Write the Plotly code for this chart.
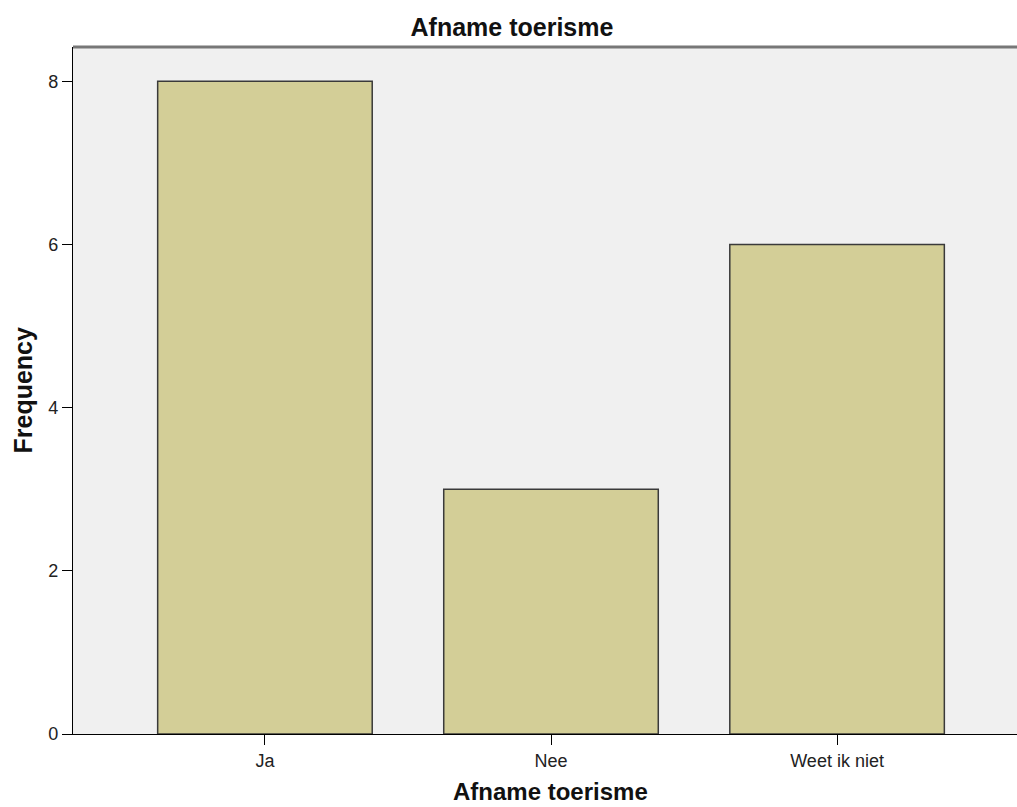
import plotly.graph_objects as go

categories = ["Ja", "Nee", "Weet ik niet"]
frequency = [8, 3, 6]
y_ticks = [0, 2, 4, 6, 8]

FONT = "Liberation Sans, Arial, sans-serif"
W, H = 1017, 807

fig = go.Figure()
fig.add_trace(go.Bar(
    x=categories, y=frequency, width=0.75,
    marker=dict(color="#D3CE97", line=dict(color="#3a3a3a", width=1.5)),
))

fig.update_layout(
    width=W, height=H,
    margin=dict(l=73, r=0, t=47, b=73),
    paper_bgcolor="white", plot_bgcolor="#F0F0F0",
    font=dict(family=FONT, size=18, color="#222"),
    title=dict(text="<b>Afname toerisme</b>", x=512 / W, xanchor="center", xref="container",
               y=1 - 27/H, yanchor="middle", yref="container",
               font=dict(size=25, color="#111")),
    showlegend=False,
)
fig.update_xaxes(
    range=[-0.671, 2.629], showgrid=False, zeroline=False,
    showline=True, linecolor="black", linewidth=1.2,
    ticks="outside", ticklen=10, tickcolor="black",
)
fig.update_yaxes(
    range=[0, 8.42], tickvals=y_ticks, showgrid=False, zeroline=False,
    showline=True, linecolor="black", linewidth=1.2,
    ticks="outside", ticklen=10, tickcolor="black",
)
fig.add_annotation(text="<b>Frequency</b>", xref="paper", yref="paper",
                   x=-0.054, y=0.5, xanchor="center", yanchor="middle",
                   textangle=-90, showarrow=False, font=dict(size=25, color="#111"))
fig.add_annotation(text="<b>Afname toerisme</b>", xref="paper", yref="paper",
                   x=0.506, y=-0.1055, xanchor="center", yanchor="bottom", borderpad=0,
                   showarrow=False, font=dict(size=24, color="#111"))
fig.add_shape(type="line", xref="paper", yref="paper", x0=0, x1=1, y0=1, y1=1,
              line=dict(color="#777", width=3))

fig.write_html("out.html", config={"displayModeBar": False},
               post_script="document.body.style.margin='0';")
